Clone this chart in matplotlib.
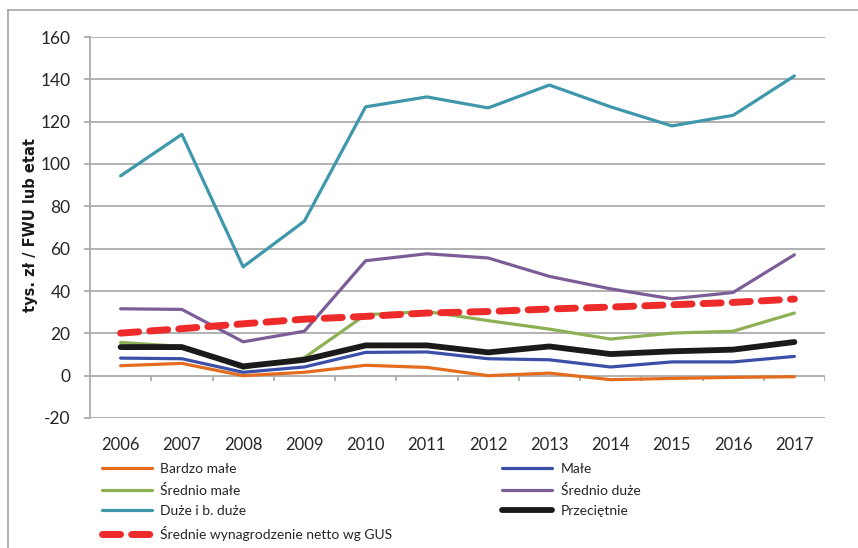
import matplotlib
matplotlib.use("Agg")
import matplotlib.pyplot as plt
from matplotlib.lines import Line2D
import numpy as np

plt.rcParams["axes.unicode_minus"] = False

years = ["2006", "2007", "2008", "2009", "2010", "2011", "2012", "2013", "2014", "2015", "2016", "2017"]

bardzo_male = [4.7, 5.8, 0.0, 1.6, 4.9, 3.9, 0.0, 1.2, -1.9, -1.3, -0.8, -0.5]
male = [8.3, 8.0, 1.6, 4.1, 11.0, 11.2, 8.0, 7.5, 4.1, 6.5, 6.5, 9.1]
srednio_male = [15.7, 13.8, 3.5, 8.5, 28.8, 30.3, 26.0, 22.0, 17.3, 20.1, 21.0, 29.6]
srednio_duze = [31.6, 31.3, 16.0, 21.0, 54.3, 57.6, 55.6, 46.9, 41.0, 36.3, 39.3, 57.1]
duze = [94.4, 114.0, 51.4, 73.0, 127.0, 131.7, 126.5, 137.3, 127.0, 118.0, 123.0, 141.6]
przecietnie = [13.5, 13.5, 4.4, 7.5, 14.3, 14.3, 11.0, 13.8, 10.2, 11.5, 12.3, 15.9]
gus = [20.1, 22.2, 24.5, 26.7, 28.0, 29.6, 30.3, 31.5, 32.4, 33.5, 34.6, 36.2]

labels = ["Bardzo małe", "Małe", "Średnio małe", "Średnio duże",
          "Duże i b. duże", "Przeciętnie", "Średnie wynagrodzenie netto wg GUS"]
y_ticks = [-20, 0, 20, 40, 60, 80, 100, 120, 140, 160]

W, H = 858, 548
fig = plt.figure(figsize=(W / 100, H / 100), dpi=100)
ax = fig.add_axes([90 / W, 1 - 418 / H, (825 - 90) / W, (418 - 37) / H])

x = np.arange(len(years))
grid_c = "#ABABAB"

ax.set_xlim(-0.5, len(years) - 0.5)
ax.set_ylim(-20, 160)
ax.set_yticks(y_ticks)
for v in y_ticks:
    ax.axhline(v, color=grid_c, lw=1.3, zorder=1)

# category boundary tick marks on the zero line
ax.vlines(np.arange(len(years)) + 0.5, -2.4, 0, color=grid_c, lw=1.3, zorder=1)

series = [
    (bardzo_male, "#E36C1E", 2.3, "-"),
    (male, "#3B4FA8", 2.3, "-"),
    (srednio_male, "#8EB054", 2.3, "-"),
    (srednio_duze, "#7B5E97", 2.3, "-"),
    (duze, "#3E97AB", 2.3, "-"),
    (przecietnie, "#1A1A1A", 4.2, "-"),
]
handles = []
for (vals, col, lw, ls), lab in zip(series, labels[:6]):
    h, = ax.plot(x, vals, color=col, lw=lw, ls=ls, solid_capstyle="round",
                 solid_joinstyle="round", label=lab, zorder=3)
    handles.append(h)
h, = ax.plot(x, gus, color="#EE2B2B", lw=5, dashes=(2.6, 1.6), dash_capstyle="round",
             label=labels[6], zorder=4)
handles.append(h)

for s in ["top", "right", "bottom"]:
    ax.spines[s].set_visible(False)
ax.spines["left"].set_color(grid_c)
ax.spines["left"].set_linewidth(1.3)

ax.set_xticks(x)
ax.set_xticklabels(years, fontfamily="Lato", fontsize=12, color="#262626")
ax.tick_params(axis="x", length=0, pad=14)
ax.tick_params(axis="y", length=4, width=1.3, color=grid_c, pad=10, labelsize=12.5,
               labelcolor="#262626")
for t in ax.get_yticklabels():
    t.set_fontfamily("Lato")

fig.text(30 / W, 1 - 225 / H, "tys. zł / FWU lub etat", rotation=90, ha="center", va="center",
         fontsize=10.5, fontweight="bold", fontfamily="DejaVu Sans", color="#1A1A1A")

order = [0, 2, 4, 6, 1, 3, 5]
leg = fig.legend([handles[i] for i in order], [labels[i] for i in order], ncol=2,
                 loc="upper left", bbox_to_anchor=(102 / W, 1 - 463 / H),
                 frameon=False, borderpad=0, borderaxespad=0,
                 handlelength=3.6, handletextpad=0.6, labelspacing=0.62,
                 columnspacing=7.9, prop={"family": "Lato", "size": 10})
for t in leg.get_texts():
    t.set_color("#262626")

# figure border (top and left edges visible)
fig.add_artist(Line2D([8 / W, 1], [1 - 10 / H, 1 - 10 / H], color="#A6A6A6", lw=1.2))
fig.add_artist(Line2D([8 / W, 8 / W], [0, 1 - 10 / H], color="#A6A6A6", lw=1.2))

fig.savefig("out.png", dpi=100, facecolor="white")
